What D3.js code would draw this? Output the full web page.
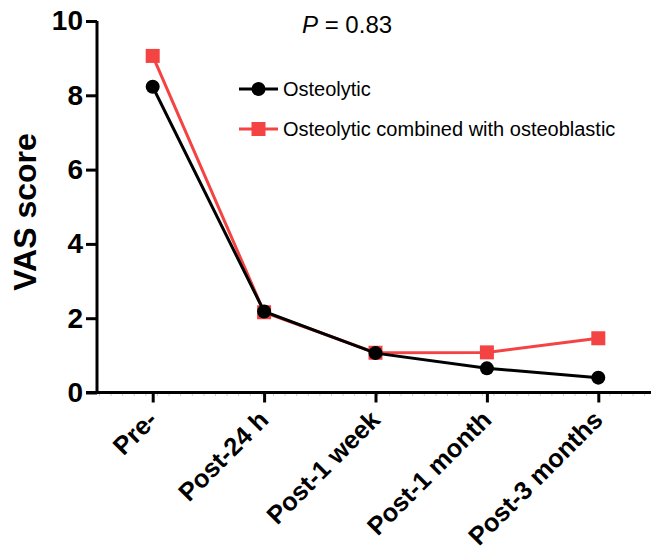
<!DOCTYPE html>
<html>
<head>
<meta charset="utf-8">
<script src="https://cdn.jsdelivr.net/npm/d3@7"></script>
<style>
  body { margin: 0; background: #fff; }
  svg { display: block; font-family: Arial, "Liberation Sans", sans-serif; }
</style>
</head>
<body>
<svg></svg>
<script>
var categories = ["Pre-", "Post-24 h", "Post-1 week", "Post-1 month", "Post-3 months"];
var osteolytic = [8.23, 2.18, 1.06, 0.65, 0.40];
var combined   = [9.06, 2.16, 1.07, 1.08, 1.46];
var yTicks = [0, 2, 4, 6, 8, 10];
var seriesNames = ["Osteolytic", "Osteolytic combined with osteoblastic"];
var pText = "0.83";

var width = 651, height = 555;
var red = "#f44343";

var svg = d3.select("svg")
  .attr("width", width)
  .attr("height", height);

var x = d3.scalePoint()
  .domain(categories)
  .range([97, 654])
  .padding(0.5);

var y = d3.scaleLinear()
  .domain([0, 10])
  .range([392.5, 21]);

// y axis
var yAxis = d3.axisLeft(y).tickValues(yTicks).tickSize(11).tickPadding(3);
var yg = svg.append("g")
  .attr("transform", "translate(97,0)")
  .call(yAxis);
yg.select(".domain").attr("stroke", "#000").attr("stroke-width", 3)
  .attr("d", "M0," + y(10) + "V" + (y(0) + 1.5));
yg.selectAll(".tick line").attr("stroke", "#000").attr("stroke-width", 3);
yg.selectAll(".tick text")
  .attr("font-size", 28).attr("font-weight", "bold").attr("fill", "#000")
  .attr("font-family", "Arial, 'Liberation Sans', sans-serif");

// faint minor marks along the x axis
svg.append("line")
  .attr("x1", 99).attr("x2", width)
  .attr("y1", y(0) + 2.5).attr("y2", y(0) + 2.5)
  .attr("stroke", "#999").attr("stroke-width", 1)
  .attr("stroke-dasharray", "1,10.6");

// x axis
var xAxis = d3.axisBottom(x).tickSize(10).tickFormat("");
var xg = svg.append("g")
  .attr("transform", "translate(0," + y(0) + ")")
  .call(xAxis);
xg.select(".domain").attr("stroke", "#000").attr("stroke-width", 3)
  .attr("d", "M86,0H" + width);
xg.selectAll(".tick line").attr("stroke", "#000").attr("stroke-width", 3);

// rotated category labels
svg.append("g").selectAll("text")
  .data(categories)
  .join("text")
  .attr("transform", function(d){ return "translate(" + (x(d) + 6) + "," + (y(0) + 29) + ") rotate(-45)"; })
  .attr("text-anchor", "end")
  .attr("font-size", 25.5)
  .attr("font-weight", "bold")
  .text(function(d){ return d; });

// y title
svg.append("text")
  .attr("transform", "translate(36,212) rotate(-90)")
  .attr("text-anchor", "middle")
  .attr("font-size", 32)
  .attr("font-weight", "bold")
  .text("VAS score");

var line = d3.line()
  .x(function(d, i){ return x(categories[i]); })
  .y(function(d){ return y(d); });

// red series (drawn underneath)
svg.append("path")
  .attr("d", line(combined))
  .attr("fill", "none").attr("stroke", red).attr("stroke-width", 3);
svg.append("g").selectAll("rect")
  .data(combined)
  .join("rect")
  .attr("x", function(d, i){ return x(categories[i]) - 7; })
  .attr("y", function(d){ return y(d) - 7; })
  .attr("width", 14).attr("height", 14)
  .attr("fill", red);

// black series
svg.append("path")
  .attr("d", line(osteolytic))
  .attr("fill", "none").attr("stroke", "#000").attr("stroke-width", 3);
svg.append("g").selectAll("circle")
  .data(osteolytic)
  .join("circle")
  .attr("cx", function(d, i){ return x(categories[i]); })
  .attr("cy", function(d){ return y(d); })
  .attr("r", 7)
  .attr("fill", "#000");

// legend
var legend = svg.append("g");
var lx = 239, ly = [89, 129];
legend.append("line").attr("x1", lx).attr("x2", lx + 39)
  .attr("y1", ly[0]).attr("y2", ly[0]).attr("stroke", "#000").attr("stroke-width", 3);
legend.append("circle").attr("cx", lx + 19.5).attr("cy", ly[0]).attr("r", 7).attr("fill", "#000");
legend.append("line").attr("x1", lx).attr("x2", lx + 39)
  .attr("y1", ly[1]).attr("y2", ly[1]).attr("stroke", red).attr("stroke-width", 3);
legend.append("rect").attr("x", lx + 12.5).attr("y", ly[1] - 7).attr("width", 14).attr("height", 14).attr("fill", red);
legend.selectAll("text")
  .data(seriesNames)
  .join("text")
  .attr("x", lx + 44)
  .attr("y", function(d, i){ return ly[i]; })
  .attr("dy", "0.36em")
  .attr("font-size", 20)
  .text(function(d){ return d; });

// p value
var pt = svg.append("text")
  .attr("x", 302).attr("y", 33)
  .attr("font-size", 24);
pt.append("tspan").attr("font-style", "italic").text("P");
pt.append("tspan").text(" = " + pText);
</script>
</body>
</html>
